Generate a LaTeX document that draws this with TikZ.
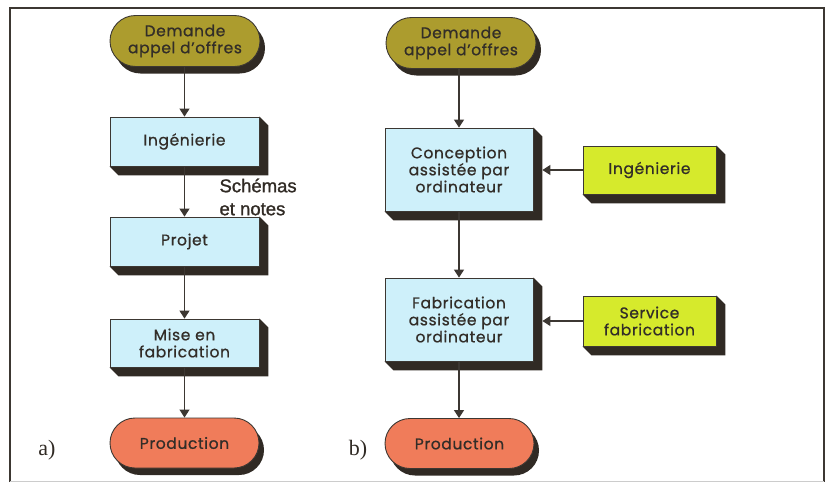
\documentclass[tikz,border=0pt]{standalone}
\usepackage{fontspec}
\setmainfont{Poppins}[LetterSpace=4,FakeBold=0.8]
\newfontfamily\schfont{Liberation Sans}[FakeBold=1.2]
\newfontfamily\labfont{Liberation Serif}
\usetikzlibrary{arrows.meta,shapes.misc,shadows,backgrounds}
\definecolor{olive}{RGB}{172,156,46}
\definecolor{lblue}{RGB}{206,240,250}
\definecolor{ygreen}{RGB}{214,234,44}
\definecolor{salmon}{RGB}{240,124,90}
\definecolor{shd}{RGB}{48,42,36}
\definecolor{txt}{RGB}{50,45,40}
\definecolor{edge}{RGB}{60,55,50}
\tikzset{
  lbl/.style={font=\fontsize{15.5}{17}\selectfont, text=txt, align=center},
  term/.style={lbl, rounded rectangle, draw=edge, line width=0.9pt,
    minimum width=150pt, minimum height=51pt, inner sep=0pt,
    drop shadow={shadow xshift=5pt, shadow yshift=-7pt, fill=shd, opacity=1}},
  stepbox/.style={lbl, rectangle, draw=edge, line width=0.8pt, fill=lblue,
    minimum width=149pt, minimum height=49pt, inner sep=0pt},
  sidebox/.style={stepbox, fill=ygreen, minimum width=133pt},
  arr/.style={draw=edge, line width=1.2pt, -{Triangle[length=8pt,width=10pt]}},
  ext/.style={fill=shd},
  frameline/.style={draw=edge, line width=1.2pt}
}
\begin{document}
\begin{tikzpicture}[x=1pt,y=-1pt]
\useasboundingbox (0,0) rectangle (832,482);
\draw[frameline] (10,482) -- (10,8) -- (824,8) -- (824,482);
\draw[gray!40, line width=0.8pt] (10,481) -- (824,481);

% column a
\node[term, fill=olive] (dA) at (185,41) {Demande\\appel d'offres};
\node[stepbox] (ingA) at (184.5,141.5) {Ingénierie};
\node[stepbox] (projA) at (184.5,241.5) {Projet};
\node[stepbox, minimum height=48pt] (miseA) at (184.5,343) {Mise en\\fabrication};
\node[term, fill=salmon, minimum width=149pt, minimum height=50pt] (prodA) at (184.5,443) {Production};
\node[font=\schfont\fontsize{18.5}{23}\selectfont, text=shd, align=left, anchor=west] (sch) at (216,197) {Schémas\\et notes};
\node[font=\labfont\fontsize{22}{24}\selectfont, text=shd] (la) at (47,450) {a)};

% column b
\node[term, fill=olive] (dB) at (461,43) {Demande\\appel d'offres};
\node[stepbox, minimum width=148pt, minimum height=83pt] (cao) at (459,169.5) {Conception\\assistée par\\ordinateur};
\node[stepbox, minimum width=148pt, minimum height=83pt] (fao) at (459,319.5) {Fabrication\\assistée par\\ordinateur};
\node[term, fill=salmon, minimum width=149pt, minimum height=50pt] (prodB) at (459.5,443.5) {Production};
\node[sidebox, minimum height=48pt] (ingB) at (649.5,170) {Ingénierie};
\node[sidebox, minimum height=50pt] (serv) at (649.5,321) {Service\\fabrication};
\node[font=\labfont\fontsize{22}{24}\selectfont, text=shd] (lb) at (358,450) {b)};

% extrusions
\begin{scope}[on background layer]
\foreach \n in {ingA,projA,miseA,cao,fao,ingB,serv}{
  \fill[ext] (\n.north east) -- ([shift={(9,9)}]\n.north east)
    -- ([shift={(9,9)}]\n.south east) -- ([shift={(9,9)}]\n.south west)
    -- (\n.south west) -- (\n.south east) -- cycle;
}
\end{scope}

\coordinate (caoR) at ([xshift=9pt]cao.east);
\coordinate (faoR) at ([xshift=9pt]fao.east);

% arrows
\draw[arr] (dA.south -| ingA.north) -- (ingA.north);
\draw[arr] (ingA.south) -- (projA.north);
\draw[arr] (projA.south) -- (miseA.north);
\draw[arr] (miseA.south) -- (prodA.north);
\draw[arr] (dB.south -| cao.north) -- (cao.north);
\draw[arr] (cao.south) -- (fao.north);
\draw[arr] (fao.south) -- (prodB.north -| fao.south);
\draw[arr] (ingB.west) -- (ingB.west -| caoR);
\draw[arr] (serv.west) -- (serv.west -| faoR);
\end{tikzpicture}
\end{document}
